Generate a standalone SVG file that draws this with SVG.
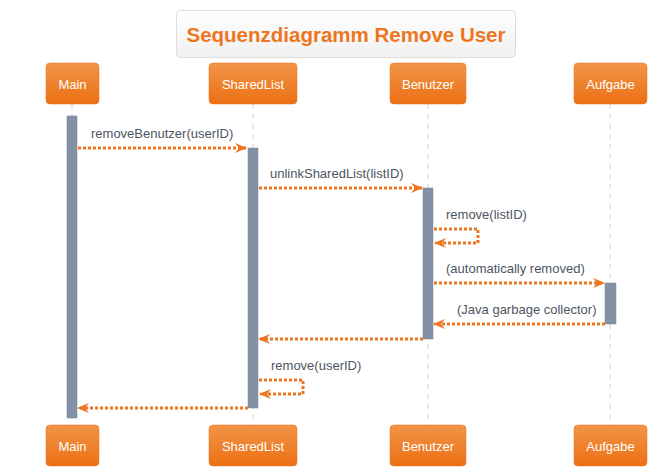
<svg xmlns="http://www.w3.org/2000/svg" width="651" height="471" viewBox="0 0 651 471">
<defs>
<linearGradient id="og" x1="0" y1="0" x2="0" y2="1">
<stop offset="0" stop-color="#f29447"/>
<stop offset="1" stop-color="#ec7014"/>
</linearGradient>
<linearGradient id="tg" x1="0" y1="0" x2="0" y2="1">
<stop offset="0" stop-color="#ffffff"/>
<stop offset="1" stop-color="#f0f0f0"/>
</linearGradient>
<marker id="ah" viewBox="0 0 12 10" refX="11" refY="5" markerWidth="12" markerHeight="10" markerUnits="userSpaceOnUse" orient="auto">
<path d="M0,0 L12,5 L0,10 L4,5 Z" fill="#ee7621"/>
</marker>
<style>
.box{fill:url(#og);stroke:#e8701a;stroke-width:0.5}
.bt{font-family:"Liberation Sans",Arial,sans-serif;font-size:13px;fill:#ffffff;text-anchor:middle}
.life{stroke:#cfcfcf;stroke-width:1;stroke-dasharray:5,5}
.act{fill:#8490a3;stroke:#7a8598;stroke-width:0.5}
.msg{fill:none;stroke:#ee7621;stroke-width:3;stroke-dasharray:3,2}
.lbl{font-family:"Liberation Sans",Arial,sans-serif;font-size:13px;fill:#4d5563}
</style>
</defs>
<rect width="651" height="471" fill="#ffffff"/>
<g id="title">
<rect x="176.5" y="10.5" width="339" height="47" rx="4" fill="url(#tg)" stroke="#dddddd"/>
<text x="346" y="42" font-family="'Liberation Sans',Arial,sans-serif" font-size="20.5" font-weight="bold" fill="#ee7621" text-anchor="middle">Sequenzdiagramm Remove User</text>
</g>
<g id="lifelines">
<line class="life" x1="72" y1="104" x2="72" y2="425"/>
<line class="life" x1="253" y1="104" x2="253" y2="425"/>
<line class="life" x1="428" y1="104" x2="428" y2="425"/>
<line class="life" x1="610" y1="104" x2="610" y2="425"/>
</g>
<g id="Main">
<rect class="box" x="46" y="63" width="53" height="41" rx="4"/>
<text class="bt" x="72.5" y="88.5">Main</text>
<rect class="box" x="46" y="425" width="53" height="41" rx="4"/>
<text class="bt" x="72.5" y="450.5">Main</text>
</g>
<g id="SharedList">
<rect class="box" x="209" y="63" width="88" height="41" rx="4"/>
<text class="bt" x="253" y="88.5">SharedList</text>
<rect class="box" x="209" y="425" width="88" height="41" rx="4"/>
<text class="bt" x="253" y="450.5">SharedList</text>
</g>
<g id="Benutzer">
<rect class="box" x="390" y="63" width="76" height="41" rx="4"/>
<text class="bt" x="428" y="88.5">Benutzer</text>
<rect class="box" x="390" y="425" width="76" height="41" rx="4"/>
<text class="bt" x="428" y="450.5">Benutzer</text>
</g>
<g id="Aufgabe">
<rect class="box" x="574" y="63" width="73" height="41" rx="4"/>
<text class="bt" x="610.5" y="88.5">Aufgabe</text>
<rect class="box" x="574" y="425" width="73" height="41" rx="4"/>
<text class="bt" x="610.5" y="450.5">Aufgabe</text>
</g>
<g id="activations">
<rect class="act" x="67" y="116" width="10" height="302"/>
<rect class="act" x="248" y="148" width="10" height="260"/>
<rect class="act" x="423" y="188" width="10" height="151"/>
<rect class="act" x="605" y="283" width="11" height="41"/>
</g>
<g id="connectors">
<path class="msg" d="M78,148 H246" marker-end="url(#ah)"/>
<path class="msg" d="M259,188 H422" marker-end="url(#ah)"/>
<path class="msg" d="M434,229 H478 V243 H435" marker-end="url(#ah)"/>
<path class="msg" d="M434,283 H604" marker-end="url(#ah)"/>
<path class="msg" d="M605,324 H434" marker-end="url(#ah)"/>
<path class="msg" d="M423,339 H259" marker-end="url(#ah)"/>
<path class="msg" d="M259,380 H303 V394 H260" marker-end="url(#ah)"/>
<path class="msg" d="M248,408 H78" marker-end="url(#ah)"/>
</g>
<g id="labels">
<text class="lbl" x="91" y="138">removeBenutzer(userID)</text>
<text class="lbl" x="270" y="178">unlinkSharedList(listID)</text>
<text class="lbl" x="446" y="219">remove(listID)</text>
<text class="lbl" x="446" y="273">(automatically removed)</text>
<text class="lbl" x="457" y="314">(Java garbage collector)</text>
<text class="lbl" x="271" y="370">remove(userID)</text>
</g>
</svg>
